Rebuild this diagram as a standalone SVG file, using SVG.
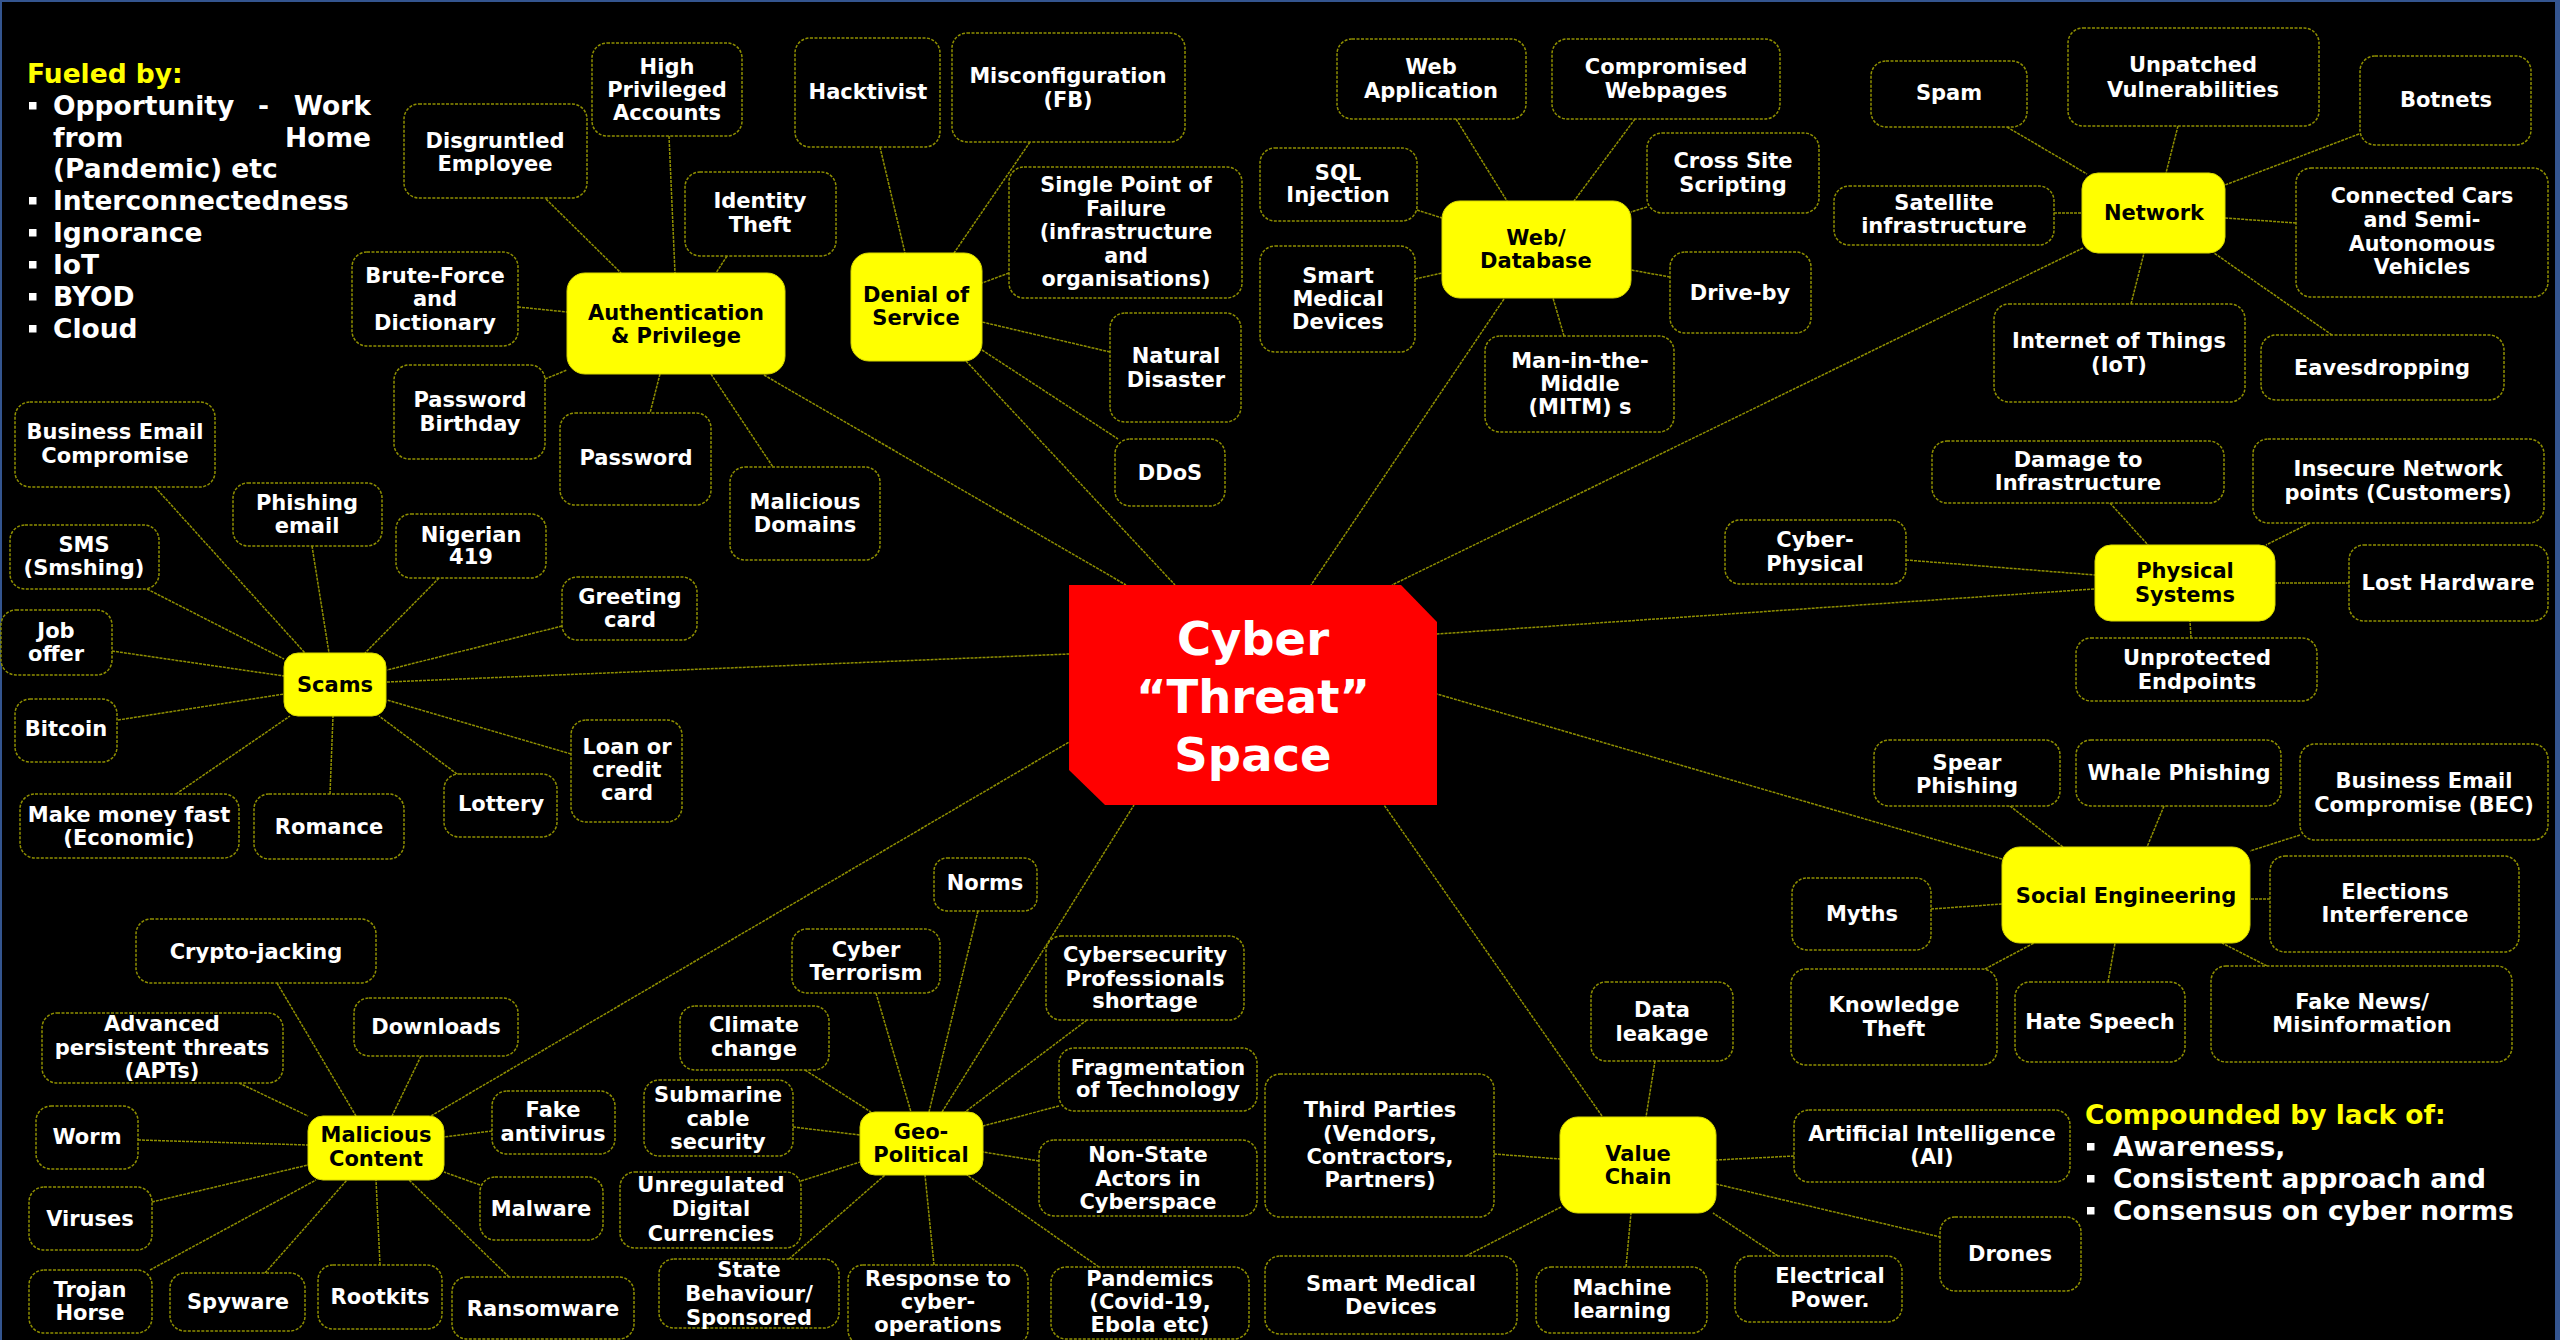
<svg xmlns="http://www.w3.org/2000/svg" width="2560" height="1340" viewBox="0 0 2560 1340">
<style>
text{font-family:"DejaVu Sans",Verdana,sans-serif;font-weight:bold;font-size:21px;fill:#fff;text-anchor:middle}
.n rect{fill:#000;stroke:#8f8f00;stroke-width:1.5;stroke-dasharray:3 1.5}
.y rect{fill:#ffff00;stroke:#d8d800;stroke-width:1}
.y text{fill:#000}
#connectors line{stroke:#8f8f00;stroke-width:1.5;stroke-dasharray:3 1}
.hd{fill:#ffff00;text-anchor:start;font-size:26.5px}
.bl{text-anchor:start;font-size:26.5px}
.bu{fill:#fff}
</style>
<rect x="0" y="0" width="2560" height="1340" fill="#000"/>
<rect x="1" y="1" width="2556" height="1350" fill="none" stroke="#34558f" stroke-width="2"/>
<rect x="2555" y="0" width="5" height="1340" fill="#34558f"/>

<g id="connectors">
<line x1="764" y1="375" x2="1126" y2="585"/>
<line x1="966" y1="361" x2="1175" y2="585"/>
<line x1="1504" y1="299" x2="1311" y2="585"/>
<line x1="2083" y1="248" x2="1392" y2="585"/>
<line x1="2094" y1="589" x2="1437" y2="634"/>
<line x1="2002" y1="859" x2="1437" y2="694"/>
<line x1="1602" y1="1116" x2="1384" y2="805"/>
<line x1="942" y1="1112" x2="1134" y2="805"/>
<line x1="431" y1="1116" x2="1069" y2="742"/>
<line x1="387" y1="682" x2="1069" y2="654"/>
<line x1="669" y1="136" x2="675" y2="273"/>
<line x1="727" y1="256" x2="716" y2="273"/>
<line x1="546" y1="199" x2="621" y2="273"/>
<line x1="518" y1="307" x2="567" y2="312"/>
<line x1="545" y1="379" x2="567" y2="370"/>
<line x1="660" y1="374" x2="650" y2="413"/>
<line x1="711" y1="374" x2="773" y2="467"/>
<line x1="880" y1="147" x2="905" y2="253"/>
<line x1="1030" y1="142" x2="954" y2="253"/>
<line x1="1009" y1="273" x2="982" y2="283"/>
<line x1="1110" y1="352" x2="982" y2="322"/>
<line x1="982" y1="350" x2="1118" y2="439"/>
<line x1="1456" y1="119" x2="1507" y2="201"/>
<line x1="1635" y1="119" x2="1574" y2="201"/>
<line x1="1417" y1="210" x2="1442" y2="218"/>
<line x1="1647" y1="207" x2="1631" y2="212"/>
<line x1="1415" y1="279" x2="1442" y2="273"/>
<line x1="1670" y1="277" x2="1631" y2="270"/>
<line x1="1564" y1="336" x2="1553" y2="298"/>
<line x1="2007" y1="127" x2="2087" y2="174"/>
<line x1="2178" y1="126" x2="2166" y2="173"/>
<line x1="2359" y1="134" x2="2225" y2="185"/>
<line x1="2054" y1="213" x2="2082" y2="213"/>
<line x1="2296" y1="223" x2="2225" y2="218"/>
<line x1="2131" y1="304" x2="2144" y2="253"/>
<line x1="2332" y1="335" x2="2214" y2="253"/>
<line x1="2110" y1="503" x2="2148" y2="545"/>
<line x1="2310" y1="523" x2="2266" y2="545"/>
<line x1="2349" y1="583" x2="2275" y2="583"/>
<line x1="2191" y1="638" x2="2190" y2="621"/>
<line x1="1906" y1="560" x2="2095" y2="575"/>
<line x1="2010" y1="806" x2="2063" y2="847"/>
<line x1="2164" y1="806" x2="2147" y2="847"/>
<line x1="2300" y1="835" x2="2250" y2="851"/>
<line x1="1931" y1="909" x2="2002" y2="904"/>
<line x1="2270" y1="899" x2="2250" y2="899"/>
<line x1="1985" y1="969" x2="2034" y2="943"/>
<line x1="2108" y1="982" x2="2115" y2="943"/>
<line x1="2267" y1="966" x2="2222" y2="943"/>
<line x1="1655" y1="1061" x2="1646" y2="1117"/>
<line x1="1494" y1="1154" x2="1560" y2="1159"/>
<line x1="1794" y1="1156" x2="1716" y2="1160"/>
<line x1="1466" y1="1256" x2="1561" y2="1207"/>
<line x1="1626" y1="1267" x2="1631" y2="1213"/>
<line x1="1778" y1="1256" x2="1713" y2="1213"/>
<line x1="1716" y1="1184" x2="1940" y2="1237"/>
<line x1="978" y1="911" x2="929" y2="1112"/>
<line x1="876" y1="993" x2="911" y2="1112"/>
<line x1="1087" y1="1020" x2="965" y2="1112"/>
<line x1="805" y1="1070" x2="871" y2="1112"/>
<line x1="793" y1="1127" x2="860" y2="1135"/>
<line x1="801" y1="1181" x2="860" y2="1162"/>
<line x1="789" y1="1259" x2="885" y2="1175"/>
<line x1="934" y1="1265" x2="925" y2="1175"/>
<line x1="1099" y1="1267" x2="967" y2="1175"/>
<line x1="1039" y1="1161" x2="983" y2="1152"/>
<line x1="1059" y1="1106" x2="983" y2="1126"/>
<line x1="277" y1="983" x2="356" y2="1116"/>
<line x1="421" y1="1056" x2="392" y2="1116"/>
<line x1="239" y1="1083" x2="308" y2="1116"/>
<line x1="138" y1="1140" x2="308" y2="1145"/>
<line x1="152" y1="1202" x2="308" y2="1165"/>
<line x1="150" y1="1270" x2="316" y2="1180"/>
<line x1="265" y1="1273" x2="347" y2="1180"/>
<line x1="380" y1="1265" x2="376" y2="1180"/>
<line x1="509" y1="1277" x2="409" y2="1180"/>
<line x1="480" y1="1185" x2="444" y2="1172"/>
<line x1="492" y1="1131" x2="444" y2="1137"/>
<line x1="155" y1="487" x2="305" y2="653"/>
<line x1="312" y1="546" x2="329" y2="653"/>
<line x1="439" y1="578" x2="365" y2="653"/>
<line x1="562" y1="626" x2="387" y2="670"/>
<line x1="571" y1="754" x2="387" y2="700"/>
<line x1="457" y1="774" x2="379" y2="716"/>
<line x1="330" y1="794" x2="333" y2="716"/>
<line x1="176" y1="794" x2="290" y2="716"/>
<line x1="118" y1="720" x2="284" y2="694"/>
<line x1="112" y1="651" x2="284" y2="676"/>
<line x1="147" y1="589" x2="284" y2="659"/>
</g>

<g id="fueled-by">
<text class="hd" x="27" y="83">Fueled by:</text>
<rect class="bu" x="29" y="102" width="7.5" height="7.5"/>
<text class="bl" x="53" y="115">Opportunity</text>
<text class="bl" x="258" y="115">-</text>
<text class="bl" x="371" y="115" style="text-anchor:end">Work</text>
<text class="bl" x="53" y="147">from</text>
<text class="bl" x="371" y="147" style="text-anchor:end">Home</text>
<text class="bl" x="53" y="178">(Pandemic) etc</text>
<rect class="bu" x="29" y="197" width="7.5" height="7.5"/>
<text class="bl" x="53" y="210">Interconnectedness</text>
<rect class="bu" x="29" y="229" width="7.5" height="7.5"/>
<text class="bl" x="53" y="242">Ignorance</text>
<rect class="bu" x="29" y="261" width="7.5" height="7.5"/>
<text class="bl" x="53" y="274">IoT</text>
<rect class="bu" x="29" y="293" width="7.5" height="7.5"/>
<text class="bl" x="53" y="306">BYOD</text>
<rect class="bu" x="29" y="325" width="7.5" height="7.5"/>
<text class="bl" x="53" y="338">Cloud</text>
</g>

<g id="compounded-by">
<text class="hd" x="2085" y="1124">Compounded by lack of:</text>
<rect class="bu" x="2087" y="1143" width="7.5" height="7.5"/>
<text class="bl" x="2113" y="1156">Awareness,</text>
<rect class="bu" x="2087" y="1175" width="7.5" height="7.5"/>
<text class="bl" x="2113" y="1188">Consistent approach and</text>
<rect class="bu" x="2087" y="1207" width="7.5" height="7.5"/>
<text class="bl" x="2113" y="1220">Consensus on cyber norms</text>
</g>

<g id="center">
<polygon points="1069,585 1401,585 1437,622 1437,805 1105,805 1069,770" fill="#ff0000"/>
<text x="1253" y="655" style="font-size:46.5px">Cyber</text>
<text x="1253" y="713" style="font-size:46.5px">“Threat”</text>
<text x="1253" y="771" style="font-size:46.5px">Space</text>
</g>

<!-- Authentication -->
<g id="auth" class="y"><rect x="567" y="273" width="218" height="101" rx="18"/><text x="676" y="320">Authentication</text><text x="676" y="343">&amp; Privilege</text></g>
<g id="high-priv" class="n"><rect x="592" y="43" width="150" height="93" rx="15"/><text x="667" y="74">High</text><text x="667" y="97">Privileged</text><text x="667" y="120">Accounts</text></g>
<g id="disgruntled" class="n"><rect x="404" y="104" width="183" height="94" rx="15"/><text x="495" y="148">Disgruntled</text><text x="495" y="171">Employee</text></g>
<g id="identity" class="n"><rect x="685" y="172" width="151" height="84" rx="15"/><text x="760" y="208">Identity</text><text x="760" y="232">Theft</text></g>
<g id="brute" class="n"><rect x="352" y="252" width="166" height="94" rx="15"/><text x="435" y="283">Brute-Force</text><text x="435" y="306">and</text><text x="435" y="330">Dictionary</text></g>
<g id="pw-birthday" class="n"><rect x="394" y="365" width="151" height="94" rx="15"/><text x="470" y="407">Password</text><text x="470" y="431">Birthday</text></g>
<g id="password" class="n"><rect x="560" y="413" width="151" height="92" rx="15"/><text x="636" y="465">Password</text></g>
<g id="mal-domains" class="n"><rect x="730" y="467" width="150" height="93" rx="15"/><text x="805" y="509">Malicious</text><text x="805" y="532">Domains</text></g>

<!-- Denial of Service -->
<g id="dos" class="y"><rect x="851" y="253" width="131" height="108" rx="18"/><text x="916" y="302">Denial of</text><text x="916" y="325">Service</text></g>
<g id="hacktivist" class="n"><rect x="795" y="38" width="145" height="109" rx="15"/><text x="868" y="99">Hacktivist</text></g>
<g id="misconfig" class="n"><rect x="952" y="33" width="233" height="109" rx="15"/><text x="1068" y="83" style="font-size:20.8px">Misconfiguration</text><text x="1068" y="107" style="font-size:20.8px">(FB)</text></g>
<g id="spof" class="n"><rect x="1009" y="167" width="233" height="131" rx="15"/><text x="1126" y="192" style="font-size:20.7px">Single Point of</text><text x="1126" y="216" style="font-size:20.7px">Failure</text><text x="1126" y="239" style="font-size:20.7px">(infrastructure</text><text x="1126" y="263" style="font-size:20.7px">and</text><text x="1126" y="286" style="font-size:20.7px">organisations)</text></g>
<g id="natural" class="n"><rect x="1110" y="313" width="131" height="109" rx="15"/><text x="1176" y="363">Natural</text><text x="1176" y="387">Disaster</text></g>
<g id="ddos" class="n"><rect x="1115" y="439" width="110" height="67" rx="15"/><text x="1170" y="480">DDoS</text></g>

<!-- Web / Database -->
<g id="webdb" class="y"><rect x="1442" y="201" width="189" height="97" rx="18"/><text x="1536" y="245">Web/</text><text x="1536" y="268">Database</text></g>
<g id="webapp" class="n"><rect x="1337" y="39" width="189" height="80" rx="15"/><text x="1431" y="74">Web</text><text x="1431" y="98">Application</text></g>
<g id="compromised" class="n"><rect x="1552" y="39" width="228" height="80" rx="15"/><text x="1666" y="74">Compromised</text><text x="1666" y="98">Webpages</text></g>
<g id="sql" class="n"><rect x="1260" y="148" width="157" height="73" rx="15"/><text x="1338" y="180">SQL</text><text x="1338" y="202">Injection</text></g>
<g id="xss" class="n"><rect x="1647" y="133" width="172" height="80" rx="15"/><text x="1733" y="168">Cross Site</text><text x="1733" y="192">Scripting</text></g>
<g id="smartmed1" class="n"><rect x="1260" y="246" width="155" height="106" rx="15"/><text x="1338" y="283">Smart</text><text x="1338" y="306">Medical</text><text x="1338" y="329">Devices</text></g>
<g id="driveby" class="n"><rect x="1670" y="252" width="141" height="81" rx="15"/><text x="1740" y="300">Drive-by</text></g>
<g id="mitm" class="n"><rect x="1485" y="336" width="189" height="96" rx="15"/><text x="1580" y="368">Man-in-the-</text><text x="1580" y="391">Middle</text><text x="1580" y="414">(MITM) s</text></g>

<!-- Network -->
<g id="network" class="y"><rect x="2082" y="173" width="143" height="80" rx="16"/><text x="2154" y="220">Network</text></g>
<g id="spam" class="n"><rect x="1871" y="61" width="156" height="66" rx="15"/><text x="1949" y="100">Spam</text></g>
<g id="unpatched" class="n"><rect x="2068" y="28" width="251" height="98" rx="15"/><text x="2193" y="72">Unpatched</text><text x="2193" y="97">Vulnerabilities</text></g>
<g id="botnets" class="n"><rect x="2360" y="56" width="171" height="89" rx="15"/><text x="2446" y="107">Botnets</text></g>
<g id="satellite" class="n"><rect x="1834" y="186" width="220" height="59" rx="15"/><text x="1944" y="210">Satellite</text><text x="1944" y="233">infrastructure</text></g>
<g id="cars" class="n"><rect x="2296" y="168" width="252" height="129" rx="15"/><text x="2422" y="203" style="font-size:20.7px">Connected Cars</text><text x="2422" y="227" style="font-size:20.7px">and Semi-</text><text x="2422" y="251" style="font-size:20.7px">Autonomous</text><text x="2422" y="274" style="font-size:20.7px">Vehicles</text></g>
<g id="iot" class="n"><rect x="1994" y="304" width="251" height="98" rx="15"/><text x="2119" y="348">Internet of Things</text><text x="2119" y="372">(IoT)</text></g>
<g id="eaves" class="n"><rect x="2261" y="335" width="243" height="65" rx="15"/><text x="2382" y="375">Eavesdropping</text></g>

<!-- Physical Systems -->
<g id="physical" class="y"><rect x="2095" y="545" width="180" height="76" rx="16"/><text x="2185" y="578">Physical</text><text x="2185" y="602">Systems</text></g>
<g id="damage" class="n"><rect x="1932" y="441" width="292" height="62" rx="15"/><text x="2078" y="467">Damage to</text><text x="2078" y="490">Infrastructure</text></g>
<g id="insecure" class="n"><rect x="2253" y="439" width="291" height="84" rx="15"/><text x="2398" y="476">Insecure Network</text><text x="2398" y="500">points (Customers)</text></g>
<g id="lost" class="n"><rect x="2349" y="545" width="199" height="76" rx="15"/><text x="2448" y="590">Lost Hardware</text></g>
<g id="unprotected" class="n"><rect x="2076" y="638" width="241" height="63" rx="15"/><text x="2197" y="665">Unprotected</text><text x="2197" y="689">Endpoints</text></g>
<g id="cyberphys" class="n"><rect x="1725" y="520" width="181" height="64" rx="15"/><text x="1815" y="547">Cyber-</text><text x="1815" y="571">Physical</text></g>

<!-- Social Engineering -->
<g id="social" class="y"><rect x="2002" y="847" width="248" height="96" rx="18"/><text x="2126" y="903">Social Engineering</text></g>
<g id="spear" class="n"><rect x="1874" y="740" width="186" height="66" rx="15"/><text x="1967" y="770">Spear</text><text x="1967" y="793">Phishing</text></g>
<g id="whale" class="n"><rect x="2076" y="740" width="205" height="66" rx="15"/><text x="2179" y="780">Whale Phishing</text></g>
<g id="bec2" class="n"><rect x="2300" y="744" width="248" height="96" rx="15"/><text x="2424" y="788">Business Email</text><text x="2424" y="812">Compromise (BEC)</text></g>
<g id="elections" class="n"><rect x="2270" y="856" width="249" height="96" rx="15"/><text x="2395" y="899">Elections</text><text x="2395" y="922">Interference</text></g>
<g id="myths" class="n"><rect x="1792" y="878" width="139" height="72" rx="15"/><text x="1862" y="921">Myths</text></g>
<g id="knowledge" class="n"><rect x="1791" y="969" width="206" height="96" rx="15"/><text x="1894" y="1012">Knowledge</text><text x="1894" y="1036">Theft</text></g>
<g id="hate" class="n"><rect x="2015" y="982" width="170" height="80" rx="15"/><text x="2100" y="1029">Hate Speech</text></g>
<g id="fakenews" class="n"><rect x="2211" y="966" width="301" height="96" rx="15"/><text x="2362" y="1009">Fake News/</text><text x="2362" y="1032">Misinformation</text></g>

<!-- Value Chain -->
<g id="valuechain" class="y"><rect x="1560" y="1117" width="156" height="96" rx="18"/><text x="1638" y="1161">Value</text><text x="1638" y="1184">Chain</text></g>
<g id="dataleak" class="n"><rect x="1591" y="982" width="142" height="79" rx="15"/><text x="1662" y="1017">Data</text><text x="1662" y="1041">leakage</text></g>
<g id="third" class="n"><rect x="1265" y="1074" width="229" height="143" rx="15"/><text x="1380" y="1117">Third Parties</text><text x="1380" y="1141">(Vendors,</text><text x="1380" y="1164">Contractors,</text><text x="1380" y="1187">Partners)</text></g>
<g id="ai" class="n"><rect x="1794" y="1110" width="276" height="72" rx="15"/><text x="1932" y="1141">Artificial Intelligence</text><text x="1932" y="1164">(AI)</text></g>
<g id="smartmed2" class="n"><rect x="1265" y="1256" width="252" height="78" rx="15"/><text x="1391" y="1291">Smart Medical</text><text x="1391" y="1314">Devices</text></g>
<g id="ml" class="n"><rect x="1536" y="1267" width="171" height="66" rx="15"/><text x="1622" y="1295">Machine</text><text x="1622" y="1318">learning</text></g>
<g id="electrical" class="n"><rect x="1735" y="1256" width="167" height="66" rx="15"/><text x="1830" y="1283">Electrical</text><text x="1830" y="1307">Power.</text></g>
<g id="drones" class="n"><rect x="1940" y="1217" width="141" height="74" rx="15"/><text x="2010" y="1261">Drones</text></g>

<!-- Geo-Political -->
<g id="geo" class="y"><rect x="860" y="1112" width="123" height="63" rx="15"/><text x="921" y="1139">Geo-</text><text x="921" y="1162">Political</text></g>
<g id="norms" class="n"><rect x="934" y="858" width="103" height="53" rx="13"/><text x="985" y="890">Norms</text></g>
<g id="terrorism" class="n"><rect x="792" y="929" width="148" height="64" rx="15"/><text x="866" y="957">Cyber</text><text x="866" y="980">Terrorism</text></g>
<g id="cybersec" class="n"><rect x="1046" y="936" width="198" height="84" rx="15"/><text x="1145" y="962">Cybersecurity</text><text x="1145" y="986">Professionals</text><text x="1145" y="1008">shortage</text></g>
<g id="climate" class="n"><rect x="680" y="1006" width="149" height="64" rx="15"/><text x="754" y="1032">Climate</text><text x="754" y="1056">change</text></g>
<g id="submarine" class="n"><rect x="644" y="1080" width="149" height="76" rx="15"/><text x="718" y="1102">Submarine</text><text x="718" y="1126">cable</text><text x="718" y="1149">security</text></g>
<g id="fragmentation" class="n"><rect x="1059" y="1048" width="198" height="63" rx="15"/><text x="1158" y="1075">Fragmentation</text><text x="1158" y="1097">of Technology</text></g>
<g id="nonstate" class="n"><rect x="1039" y="1140" width="218" height="76" rx="15"/><text x="1148" y="1162">Non-State</text><text x="1148" y="1186">Actors in</text><text x="1148" y="1209">Cyberspace</text></g>
<g id="unregulated" class="n"><rect x="620" y="1172" width="181" height="76" rx="15"/><text x="711" y="1192">Unregulated</text><text x="711" y="1216">Digital</text><text x="711" y="1241">Currencies</text></g>
<g id="state" class="n"><rect x="659" y="1259" width="180" height="69" rx="15"/><text x="749" y="1277">State</text><text x="749" y="1301">Behaviour/</text><text x="749" y="1325">Sponsored</text></g>
<g id="response" class="n"><rect x="848" y="1265" width="180" height="80" rx="15"/><text x="938" y="1286">Response to</text><text x="938" y="1309">cyber-</text><text x="938" y="1332">operations</text></g>
<g id="pandemics" class="n"><rect x="1051" y="1267" width="198" height="72" rx="15"/><text x="1150" y="1286">Pandemics</text><text x="1150" y="1309">(Covid-19,</text><text x="1150" y="1332">Ebola etc)</text></g>

<!-- Malicious Content -->
<g id="malicious" class="y"><rect x="308" y="1116" width="136" height="64" rx="15"/><text x="376" y="1142">Malicious</text><text x="376" y="1166">Content</text></g>
<g id="crypto" class="n"><rect x="136" y="919" width="240" height="64" rx="15"/><text x="256" y="959">Crypto-jacking</text></g>
<g id="downloads" class="n"><rect x="354" y="998" width="164" height="58" rx="15"/><text x="436" y="1034">Downloads</text></g>
<g id="apt" class="n"><rect x="42" y="1013" width="241" height="70" rx="15"/><text x="162" y="1031">Advanced</text><text x="162" y="1055">persistent threats</text><text x="162" y="1078">(APTs)</text></g>
<g id="worm" class="n"><rect x="36" y="1106" width="102" height="63" rx="15"/><text x="87" y="1144">Worm</text></g>
<g id="fakeav" class="n"><rect x="492" y="1091" width="123" height="63" rx="15"/><text x="553" y="1117">Fake</text><text x="553" y="1141">antivirus</text></g>
<g id="viruses" class="n"><rect x="29" y="1187" width="123" height="63" rx="15"/><text x="90" y="1226">Viruses</text></g>
<g id="malware" class="n"><rect x="480" y="1177" width="123" height="63" rx="15"/><text x="541" y="1216">Malware</text></g>
<g id="trojan" class="n"><rect x="29" y="1270" width="123" height="63" rx="15"/><text x="90" y="1297">Trojan</text><text x="90" y="1320">Horse</text></g>
<g id="spyware" class="n"><rect x="170" y="1273" width="135" height="58" rx="15"/><text x="238" y="1309">Spyware</text></g>
<g id="rootkits" class="n"><rect x="318" y="1265" width="124" height="64" rx="15"/><text x="380" y="1304">Rootkits</text></g>
<g id="ransomware" class="n"><rect x="452" y="1277" width="182" height="62" rx="15"/><text x="543" y="1316">Ransomware</text></g>

<!-- Scams -->
<g id="scams" class="y"><rect x="284" y="653" width="102" height="63" rx="14"/><text x="335" y="692">Scams</text></g>
<g id="bec1" class="n"><rect x="15" y="402" width="200" height="85" rx="15"/><text x="115" y="439">Business Email</text><text x="115" y="463">Compromise</text></g>
<g id="phishing" class="n"><rect x="233" y="483" width="149" height="63" rx="15"/><text x="307" y="510">Phishing</text><text x="307" y="533">email</text></g>
<g id="sms" class="n"><rect x="10" y="525" width="149" height="64" rx="15"/><text x="84" y="552">SMS</text><text x="84" y="575">(Smshing)</text></g>
<g id="nigerian" class="n"><rect x="396" y="514" width="150" height="64" rx="15"/><text x="471" y="542">Nigerian</text><text x="471" y="564">419</text></g>
<g id="greeting" class="n"><rect x="562" y="577" width="135" height="63" rx="15"/><text x="630" y="604">Greeting</text><text x="630" y="627">card</text></g>
<g id="job" class="n"><rect x="1" y="610" width="111" height="65" rx="15"/><text x="56" y="638">Job</text><text x="56" y="661">offer</text></g>
<g id="bitcoin" class="n"><rect x="15" y="699" width="102" height="63" rx="15"/><text x="66" y="736">Bitcoin</text></g>
<g id="loan" class="n"><rect x="571" y="720" width="111" height="102" rx="15"/><text x="627" y="754">Loan or</text><text x="627" y="777">credit</text><text x="627" y="800">card</text></g>
<g id="lottery" class="n"><rect x="444" y="774" width="113" height="63" rx="15"/><text x="501" y="811">Lottery</text></g>
<g id="makemoney" class="n"><rect x="20" y="794" width="219" height="64" rx="15"/><text x="129" y="822">Make money fast</text><text x="129" y="845">(Economic)</text></g>
<g id="romance" class="n"><rect x="254" y="794" width="150" height="65" rx="15"/><text x="329" y="834">Romance</text></g>
</svg>
